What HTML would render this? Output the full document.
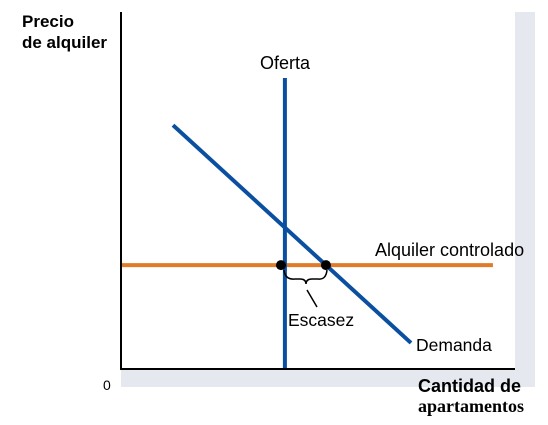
<!DOCTYPE html>
<html><head><meta charset="utf-8"><style>
body{margin:0;width:548px;height:420px;overflow:hidden;background:#fff;font-family:"Liberation Sans",sans-serif}
</style></head><body>
<svg width="548" height="420" xmlns="http://www.w3.org/2000/svg">
<rect x="515" y="12" width="20" height="375" fill="#e6e8ef"/>
<rect x="121" y="370" width="414" height="17" fill="#e6e8ef"/>
<rect x="121" y="12" width="394" height="358" fill="#fff"/>
<g id="marks"></g>
<line x1="121" y1="12" x2="121" y2="370" stroke="#000" stroke-width="2"/>
<line x1="120" y1="369" x2="515" y2="369" stroke="#000" stroke-width="2"/>
<text x="22" y="27" font-size="17" font-weight="bold">Precio</text>
<text x="22" y="48" font-size="17" font-weight="bold">de alquiler</text>
<text x="103" y="390" font-size="14">0</text>
<text x="418" y="392" font-size="18" font-weight="bold">Cantidad de</text>
<text x="418" y="412" font-size="18" font-weight="bold" font-family="Liberation Serif,serif">apartamentos</text>
<text x="260" y="69" font-size="18">Oferta</text>
<text x="375" y="256" font-size="18">Alquiler controlado</text>
<text x="416" y="351" font-size="17.5">Demanda</text>
<text x="288" y="326" font-size="17.5">Escasez</text>
<path d="M284 270 Q285 280 295 279 L300 279 Q306 279 306 284 Q306 279 312 279 L318 279 Q326 280 327 270" fill="none" stroke="#000" stroke-width="1.5"/>
<line x1="307" y1="290" x2="317" y2="307" stroke="#000" stroke-width="1.5"/>
</svg>
<script>
const supplyQ=[41.6];
const supplyP=[0,81.5];
const demandQ=[13.2,73.6];
const demandP=[68.3,7.3];
const rentP=[29.1];
const rentQ=[0,94.4];
const X=q=>121+q*3.94, Y=p=>369-p*3.57;
const NS="http://www.w3.org/2000/svg", g=document.getElementById('marks');
function ln(x1,y1,x2,y2,c,w){const l=document.createElementNS(NS,'line');l.setAttribute('x1',x1);l.setAttribute('y1',y1);l.setAttribute('x2',x2);l.setAttribute('y2',y2);l.setAttribute('stroke',c);l.setAttribute('stroke-width',w);g.appendChild(l);return l;}
const r=ln(X(rentQ[0]),Y(rentP[0]),X(rentQ[1]),Y(rentP[0]),'#e07b2a',4);


const s=ln(X(supplyQ[0]),Y(supplyP[0]),X(supplyQ[0]),Y(supplyP[1]),'#0a4fa0',4);


const d=ln(X(demandQ[0]),Y(demandP[0]),X(demandQ[1]),Y(demandP[1]),'#0a4fa0',4);


const slope=(demandP[1]-demandP[0])/(demandQ[1]-demandQ[0]);
const qd=demandQ[0]+(rentP[0]-demandP[0])/slope;
[[supplyQ[0]-1,'supply-point'],[qd,'demand-point']].forEach(([q,n])=>{
 const c=document.createElementNS(NS,'circle');c.setAttribute('cx',X(q));c.setAttribute('cy',Y(rentP[0]));c.setAttribute('r',5);c.setAttribute('fill','#000');
 
 
 g.appendChild(c);
});
</script>
</body></html>
